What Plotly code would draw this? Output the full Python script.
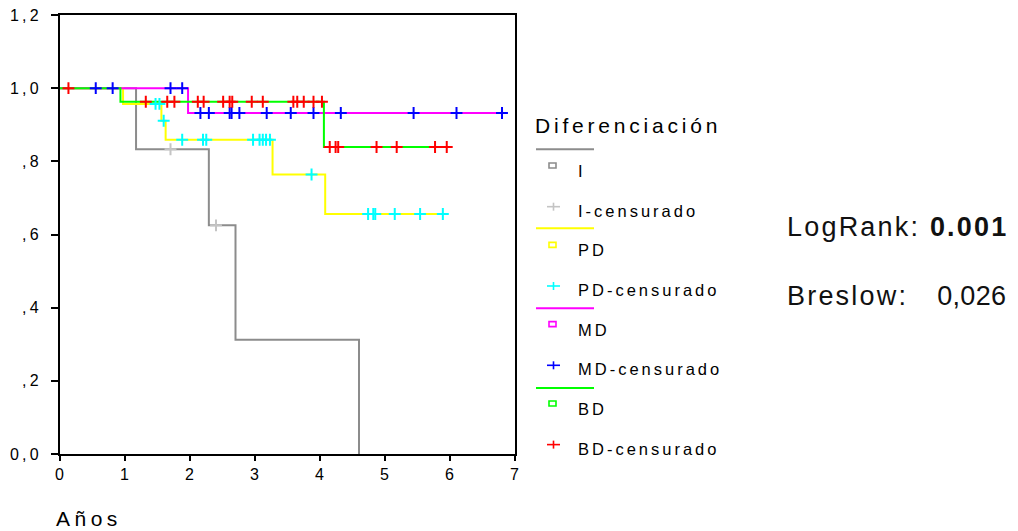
import plotly.graph_objects as go

# ---------------- data ----------------
groups = ["I", "PD", "MD", "BD"]

i_times = [0.0, 1.17, 2.29, 2.70, 4.60]
i_surv = [1.0, 0.833, 0.625, 0.3125, 0.0]
i_cens = [1.70, 2.40]

pd_times = [0.0, 0.97, 1.56, 1.625, 3.27, 4.08]
pd_surv = [1.0, 0.957, 0.911, 0.859, 0.764, 0.656]
pd_cens = [1.47, 1.53, 1.595, 1.88, 2.20, 2.25, 2.97, 3.07, 3.12, 3.17, 3.23,
           3.87, 4.74, 4.82, 4.85, 5.15, 5.54, 5.89]

md_times = [0.0, 1.97]
md_surv = [1.0, 0.932]
md_cens = [0.55, 0.81, 1.70, 1.88, 2.16, 2.29, 2.61, 2.64, 2.76, 3.18, 3.55,
           3.90, 4.32, 5.44, 6.10, 6.80]

bd_times = [0.0, 0.93, 4.06]
bd_surv = [1.0, 0.963, 0.839]
bd_cens = [0.13, 1.32, 1.65, 1.76, 2.12, 2.21, 2.51, 2.61, 2.65, 2.95, 3.12,
           3.59, 3.65, 3.75, 3.90, 4.03, 4.15, 4.24, 4.28, 4.87, 5.18, 5.77, 5.95]

x_ticks = [0, 1, 2, 3, 4, 5, 6, 7]
y_ticks = [0.0, 0.2, 0.4, 0.6, 0.8, 1.0, 1.2]
y_ticktext = ["0,0", ",2", ",4", ",6", ",8", "1,0", "1,2"]

legend_title = "Diferenciación"
x_title = "Años"
logrank_label, logrank_value = "LogRank:", "0.001"
breslow_label, breslow_value = "Breslow:", "0,026"

# ---------------- styles ----------------
line_colors = {"I": "#8c8c8c", "PD": "#ffff00", "MD": "#ff00ff", "BD": "#00ff00"}
cens_colors = {"I": "#c4c4c4", "PD": "#00ffff", "MD": "#0000ff", "BD": "#ff0000"}
FONT = "Liberation Sans, Arial, sans-serif"


def spaced(txt, px):
    return '<span style="letter-spacing:%spx">%s</span>' % (px, txt)


def step_value(times, surv, t):
    v = surv[0]
    for tt, s in zip(times, surv):
        if tt <= t:
            v = s
    return v


data = {
    "I": (i_times, i_surv, i_cens),
    "PD": (pd_times, pd_surv, pd_cens),
    "MD": (md_times, md_surv, md_cens),
    "BD": (bd_times, bd_surv, bd_cens),
}

fig = go.Figure()

for g in groups:
    times, surv, cens = data[g]
    xs = list(times)
    ys = list(surv)
    if cens and max(cens) > xs[-1]:
        xs.append(max(cens))
        ys.append(ys[-1])
    fig.add_trace(go.Scatter(x=xs, y=ys, mode="lines", line_shape="hv",
                             line=dict(color=line_colors[g], width=2),
                             name=g, hoverinfo="skip"))

for g in groups:
    times, surv, cens = data[g]
    cy = [step_value(times, surv, t) for t in cens]
    fig.add_trace(go.Scatter(x=cens, y=cy, mode="markers", name=g + "-censurado",
                             marker=dict(symbol="cross-thin", size=8.5,
                                         line=dict(color=cens_colors[g], width=2))))

# ---------------- layout geometry (pixels) ----------------
W, H = 1018, 531
L, R, T, B = 60, 515, 14.5, 454


def px(xs):
    return (xs - L) / (R - L)


def py(ys):
    return (B - ys) / (B - T)


shapes = []
annotations = []

# manual legend
annotations.append(dict(text=spaced(legend_title, 3.8), x=px(533), y=py(125),
                        xref="paper", yref="paper", xanchor="left", yanchor="middle",
                        showarrow=False, font=dict(family=FONT, size=21, color="black")))

sep_y = [149, 228, 308, 388]
row0, row_step = 169.7, 39.7
for k, g in enumerate(groups):
    shapes.append(dict(type="line", xref="paper", yref="paper",
                       x0=px(536), x1=px(594), y0=py(sep_y[k]), y1=py(sep_y[k]),
                       line=dict(color=line_colors[g], width=2)))
    r1 = row0 + row_step * (2 * k)
    r2 = row0 + row_step * (2 * k + 1)
    shapes.append(dict(type="rect", xref="paper", yref="paper",
                       x0=px(549), x1=px(556), y0=py(r1 - 7), y1=py(r1 - 2),
                       line=dict(color=line_colors[g], width=1.6)))
    shapes.append(dict(type="line", xref="paper", yref="paper",
                       x0=px(547), x1=px(560), y0=py(r2 - 3), y1=py(r2 - 3),
                       line=dict(color=cens_colors[g], width=1.6)))
    shapes.append(dict(type="line", xref="paper", yref="paper",
                       x0=px(553.5), x1=px(553.5), y0=py(r2 - 7), y1=py(r2 + 1),
                       line=dict(color=cens_colors[g], width=1.6)))
    for txt, rr in ((g, r1), (g + "-censurado", r2)):
        annotations.append(dict(text=spaced(txt, 3.0), x=px(576), y=py(rr + 1),
                                xref="paper", yref="paper", xanchor="left",
                                yanchor="middle", showarrow=False,
                                font=dict(family=FONT, size=16.5, color="black")))

annotations.append(dict(text=spaced(logrank_label + " <b>" + logrank_value + "</b>", 2.2),
                        x=px(785), y=py(227), xref="paper", yref="paper",
                        xanchor="left", yanchor="middle", showarrow=False,
                        font=dict(family=FONT, size=27, color="#111111")))
annotations.append(dict(text=spaced(breslow_label + "&nbsp;&nbsp;&nbsp;", 2.2)
                        + spaced(breslow_value, 0.3),
                        x=px(785), y=py(296), xref="paper", yref="paper",
                        xanchor="left", yanchor="middle", showarrow=False,
                        font=dict(family=FONT, size=27, color="#111111")))

annotations.append(dict(text=spaced(x_title, 4.5), x=px(54), y=py(519),
                        xref="paper", yref="paper", xanchor="left", yanchor="middle",
                        showarrow=False, font=dict(family=FONT, size=21, color="black")))

fig.update_layout(
    width=W, height=H,
    margin=dict(l=L, r=W - R, t=T, b=H - B, pad=0, autoexpand=False),
    paper_bgcolor="white", plot_bgcolor="white",
    showlegend=False,
    shapes=shapes, annotations=annotations,
    font=dict(family=FONT, color="black"),
    xaxis=dict(range=[0, 7], tickvals=x_ticks, automargin=False,
               ticklabeloverflow="allow",
               ticktext=[spaced(str(v), 1) for v in x_ticks],
               showline=True, linecolor="black", linewidth=2, mirror=True,
               ticks="outside", ticklen=5, tickwidth=2, tickcolor="black",
               showgrid=False, zeroline=False, tickfont=dict(family=FONT, size=16),
               fixedrange=True),
    yaxis=dict(range=[0, 1.2], tickvals=y_ticks, automargin=False,
               ticklabeloverflow="allow",
               ticktext=[spaced(t, 3.2) for t in y_ticktext],
               showline=True, linecolor="black", linewidth=2, mirror=True,
               ticks="outside", ticklen=7, tickwidth=2, tickcolor="black",
               ticklabelstandoff=6,
               showgrid=False, zeroline=False, tickfont=dict(family=FONT, size=16),
               fixedrange=True),
)

# the page's default 8px body margin would shift the 1018x531 figure; remove it
fig.write_html("out.html",
               config={"displayModeBar": False},
               post_script="document.body.style.margin='0';"
                           "document.body.style.overflow='hidden';")
